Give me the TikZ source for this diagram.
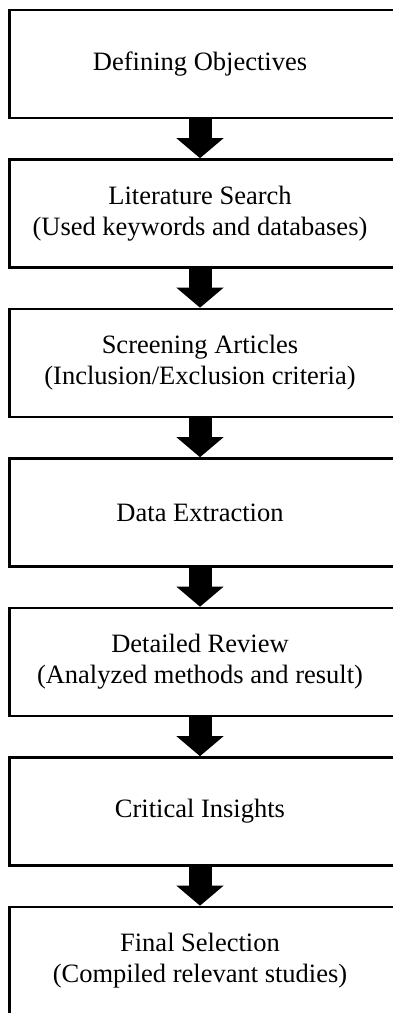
\documentclass[tikz,border=0pt]{standalone}
\usepackage{fontspec}
\setmainfont{Liberation Serif}
\usetikzlibrary{arrows.meta}
\begin{document}
\begin{tikzpicture}[x=1pt,y=-1pt,
  frame/.style={draw=black, line width=2.6pt, fill=white,
    minimum width=385pt, minimum height=108pt, inner sep=0pt},
  steptext/.style={align=center, inner sep=0pt,
    font=\fontsize{26.5}{31}\selectfont},
  flow/.style={line width=23pt, black,
    -{Triangle[width=46pt,length=20pt]}}]
  \useasboundingbox (0,0) rectangle (392,1013);
  % step boxes: left edge at x=9.5, right edge at the page edge
  \foreach \i/\top in {1/10,2/159.5,3/309,4/458.5,5/608,6/757.5,7/907}{
    \node[frame] (f\i) at (202,\top+54) {};
  }
  \node[steptext] (t1) at (200,64) {Defining Objectives};
  \node[steptext] (t2) at (200,213.5) {Literature Search\\(Used keywords and databases)};
  \node[steptext] (t3) at (200,363) {Screening Articles\\(Inclusion/Exclusion criteria)};
  \node[steptext] (t4) at (200,512.5) {Data Extraction};
  \node[steptext] (t5) at (200,662) {Detailed Review\\(Analyzed methods and result)};
  \node[steptext] (t6) at (200,811.5) {Critical Insights};
  \node[steptext] (t7) at (200,961) {Final Selection\\(Compiled relevant studies)};
  % block arrows between consecutive steps
  \foreach \a/\b in {1/2,2/3,3/4,4/5,5/6,6/7}{
    \draw[flow] (t\a |- f\a.south) -- (t\b |- f\b.north);
  }
\end{tikzpicture}
\end{document}
